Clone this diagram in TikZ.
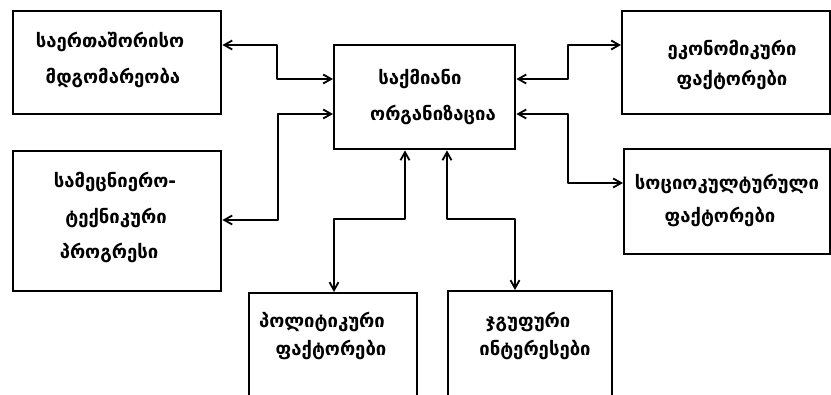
\documentclass[tikz,border=0pt]{standalone}
\usepackage{fontspec}
\setmainfont{DejaVu Sans}
\usetikzlibrary{arrows.meta}
\begin{document}
\begin{tikzpicture}[x=1pt,y=-1pt,
  box/.style={draw, line width=2.4pt, rectangle, inner sep=0pt, anchor=north west},
  lbl/.style={font=\bfseries\fontsize{18.5}{22}\selectfont, inner sep=0pt, anchor=base},
  link/.style={line width=2pt, line join=round, {Straight Barb[length=8pt,width=9pt,line width=1.8pt]}-{Straight Barb[length=8pt,width=9pt,line width=1.8pt]}}]
\clip (0,0) rectangle (831,395);
% boxes
\node[box, minimum width=208pt, minimum height=103pt] (b1) at (12,10) {};
\node[box, minimum width=208pt, minimum height=140pt] (b2) at (12,150) {};
\node[box, minimum width=181pt, minimum height=104pt] (c) at (333,44) {};
\node[box, minimum width=208pt, minimum height=103pt] (b3) at (621,10) {};
\node[box, minimum width=206pt, minimum height=105pt] (b4) at (623,148) {};
\node[box, minimum width=168pt, minimum height=130pt] (b5) at (248,292) {};
\node[box, minimum width=164pt, minimum height=130pt] (b6) at (447,290) {};
% texts
\node[lbl] (t1a) at (110,48) {საერთაშორისო};
\node[lbl] (t1b) at (113,84) {მდგომარეობა};
\node[lbl] (t2a) at (115,188) {სამეცნიერო-};
\node[lbl] (t2b) at (116,224) {ტექნიკური};
\node[lbl] (t2c) at (109,259) {პროგრესი};
\node[lbl] (tca) at (420,85) {საქმიანი};
\node[lbl] (tcb) at (433,121) {ორგანიზაცია};
\node[lbl] (t3a) at (732,56) {ეკონომიკური};
\node[lbl] (t3b) at (732,86) {ფაქტორები};
\node[lbl] (t4a) at (727,190) {სოციოკულტურული};
\node[lbl] (t4b) at (720,223) {ფაქტორები};
\node[lbl] (t5a) at (322,328) {პოლიტიკური};
\node[lbl] (t5b) at (331,356) {ფაქტორები};
\node[lbl] (t6a) at (528,328) {ჯგუფური};
\node[lbl] (t6b) at (535,356) {ინტერესები};
% connectors
\draw[link] (b1.east |- 0,45) -- (277,45) -- (277,79) -- (c.west |- 0,79);
\draw[link] (b2.east |- 0,220) -- (278,220) -- (278,114) -- (c.west |- 0,114);
\draw[link] (c.east |- 0,79) -- (568,79) -- (568,45) -- (b3.west |- 0,45);
\draw[link] (c.east |- 0,114) -- (568,114) -- (568,183) -- (b4.west |- 0,183);
\draw[link] (c.south -| 405,0) -- (405,219) -- (334,219) -- (b5.north -| 334,0);
\draw[link] (c.south -| 447,0) -- (447,219) -- (515,219) -- (b6.north -| 515,0);
\end{tikzpicture}
\end{document}
